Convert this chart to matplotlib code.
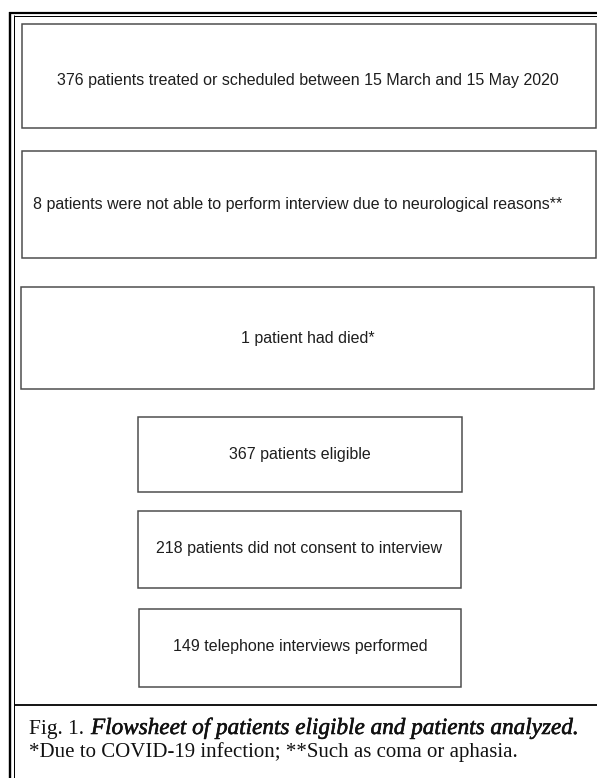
import matplotlib
matplotlib.use("Agg")
import matplotlib.pyplot as plt
import matplotlib.patheffects as pe
from matplotlib.patches import Rectangle

# ---- content ----
box_labels = [
    "376 patients treated or scheduled between 15 March and 15 May 2020",
    "8 patients were not able to perform interview due to neurological reasons**",
    "1 patient had died*",
    "367 patients eligible",
    "218 patients did not consent to interview",
    "149 telephone interviews performed",
]
caption_prefix = "Fig. 1."
caption_title = "Flowsheet of patients eligible and patients analyzed."
caption_note = "*Due to COVID-19 infection; **Such as coma or aphasia."

# ---- layout (pixel coordinates, y downward) ----
box_geom = [  # x0, y0, x1, y1, text_x, text_y
    (22, 24, 596, 128, 308, 80),
    (22, 151, 596, 258, 298, 204),
    (21, 287, 594, 389, 308, 338),
    (138, 417, 462, 492, 300, 454),
    (138, 511, 461, 588, 299, 548),
    (139, 609, 461, 687, 300, 647),
]

W, H = 597, 778
fig = plt.figure(figsize=(W / 100, H / 100), dpi=100)
ax = fig.add_axes([0, 0, 1, 1])
ax.set_xlim(0, W)
ax.set_ylim(H, 0)
ax.axis("off")

px = 0.72  # points per pixel

# outer frame: thick + thin double line on top and left
ax.plot([8.5, W], [12.8, 12.8], color="black", lw=2.2 * px, solid_capstyle="butt")
ax.plot([13.5, W], [15.6, 15.6], color="black", lw=1.0 * px, solid_capstyle="butt")
ax.plot([9.6, 9.6], [11.8, H], color="black", lw=2.4 * px, solid_capstyle="butt")
ax.plot([13.6, 13.6], [15.2, H], color="black", lw=1.0 * px, solid_capstyle="butt")
# caption separator
ax.plot([13.6, W], [705, 705], color="black", lw=1.8 * px, solid_capstyle="butt")

for label, (x0, y0, x1, y1, tx, ty) in zip(box_labels, box_geom):
    ax.add_patch(Rectangle((x0, y0), x1 - x0, y1 - y0, fill=False,
                           ec="#4a4a4a", lw=1.5 * px))
    ax.text(tx, ty, label, ha="center", va="center", fontsize=11.5,
            family="Liberation Sans", color="#1e1e1e")


def right_edge(t):
    fig.canvas.draw()
    rr = fig.canvas.get_renderer()
    bb = t.get_window_extent(rr)
    return ax.transData.inverted().transform((bb.x1, bb.y0))[0]


t1 = ax.text(29, 734, caption_prefix, ha="left", va="baseline",
             fontsize=15.5, family="Liberation Serif", color="#111111")
x1 = right_edge(t1)
ax.text(x1 + 7, 734, caption_title, ha="left", va="baseline",
        fontsize=16.7, family="Liberation Serif", style="italic",
        color="#111111",
        path_effects=[pe.withStroke(linewidth=0.4, foreground="#111111")])
ax.text(29, 757, caption_note, ha="left", va="baseline",
        fontsize=15, family="Liberation Serif", color="#111111")

fig.savefig("out.png", dpi=100)
